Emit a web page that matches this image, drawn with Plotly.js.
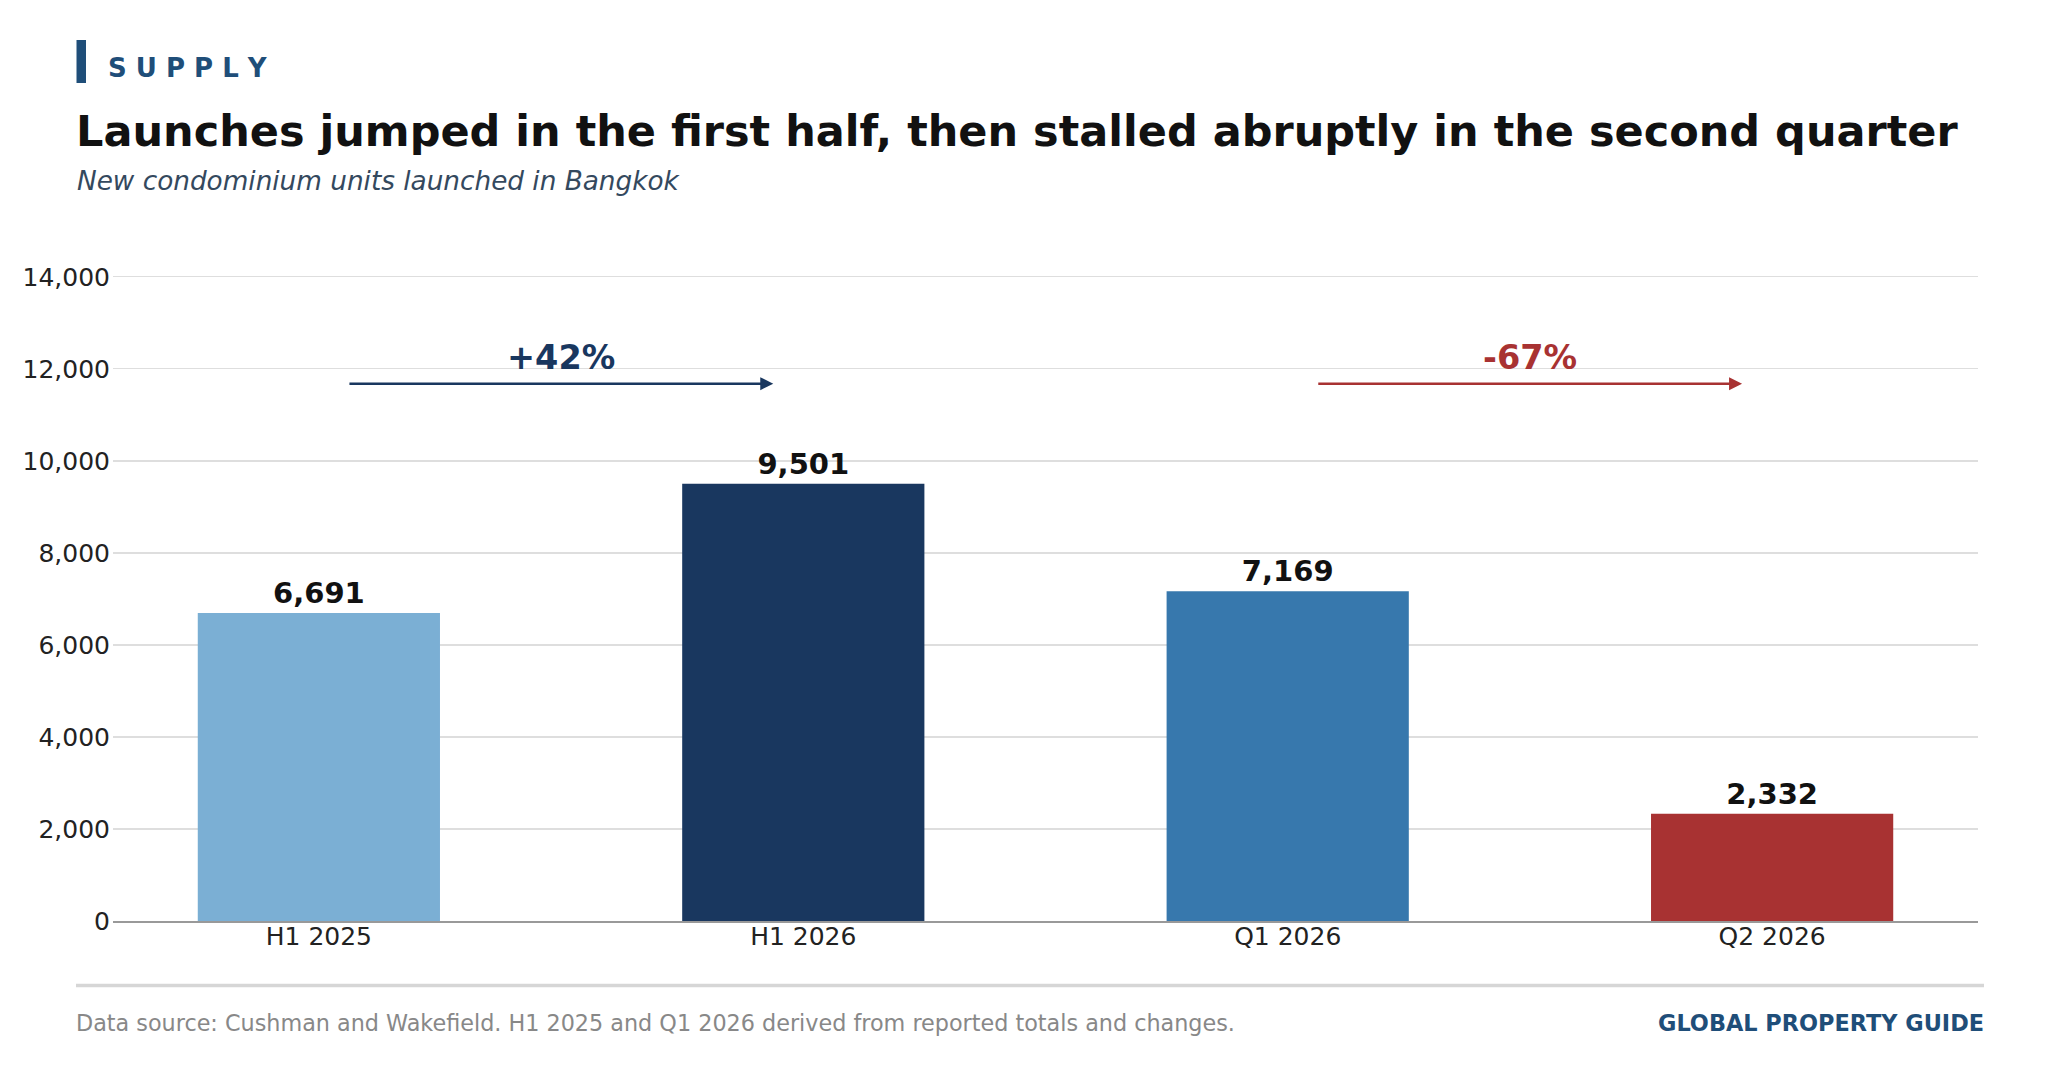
<!DOCTYPE html>
<html>
<head>
<meta charset="utf-8">
<script src="https://cdn.plot.ly/plotly-3.0.1.min.js"></script>
<style>
  html, body { margin: 0; padding: 0; background: #ffffff; }
  #chart { width: 2060px; height: 1090px; }
</style>
</head>
<body>
<div id="chart"></div>
<script>
// ---- Data ----
const categories = ['H1 2025', 'H1 2026', 'Q1 2026', 'Q2 2026'];
const units = [6691, 9501, 7169, 2332];
const barColors = ['#7bafd4', '#19375f', '#3778ad', '#a83232'];
const changeLabels = ['+42%', '-67%'];
const changeFrom = [0, 2];          // index of the starting category for each change arrow
const changeColors = ['#19375f', '#a83232'];
const yTicks = [0, 2000, 4000, 6000, 8000, 10000, 12000, 14000];

// ---- Layout geometry (pixels) ----
const W = 2060, H = 1090;
const Y_MAX = 14300;
const L = 113, R = 82, B = 169;
const T = Math.round((H - B) - (644.3 * Y_MAX / 14000));
const PW = W - L - R, PH = H - T - B;
const px = v => (v - L) / PW;          // pixel x -> paper x
const py = v => (H - B - v) / PH;      // pixel y -> paper y

const FONT = 'DejaVu Sans, Verdana, sans-serif';
const maxVal = Math.max(...units);

const annotations = [];

// Header
annotations.push({
  xref: 'paper', yref: 'paper', x: px(105.5), y: py(67.5), xanchor: 'left', yanchor: 'middle',
  text: '<b>S U P P L Y</b>', showarrow: false,
  font: { family: FONT, size: 26, color: '#1f4e79' }
});
annotations.push({
  xref: 'paper', yref: 'paper', x: px(74), y: py(130.5), xanchor: 'left', yanchor: 'middle',
  text: '<b>Launches jumped in the first half, then stalled abruptly in the second quarter</b>', showarrow: false,
  font: { family: FONT, size: 43, color: '#111111' }
});
annotations.push({
  xref: 'paper', yref: 'paper', x: px(75), y: py(181.5), xanchor: 'left', yanchor: 'middle',
  text: '<i>New condominium units launched in Bangkok</i>', showarrow: false,
  font: { family: FONT, size: 26.3, color: '#34495e' }
});

// Change arrows and labels
changeLabels.forEach((lab, k) => {
  const i = changeFrom[k];
  const yArrow = maxVal * 1.229;
  annotations.push({
    xref: 'x', yref: 'y', axref: 'x', ayref: 'y',
    x: i + 0.938, y: yArrow, ax: i + 0.06, ay: yArrow,
    text: '', showarrow: true, arrowhead: 2, arrowsize: 1, arrowwidth: 2.6,
    arrowcolor: changeColors[k], standoff: 0, startstandoff: 0
  });
  annotations.push({
    xref: 'x', yref: 'y', x: i + 0.5, y: maxVal * 1.2885,
    xanchor: 'center', yanchor: 'middle', showarrow: false,
    text: '<b>' + lab + '</b>',
    font: { family: FONT, size: 33.5, color: changeColors[k] }
  });
});

// Footer
annotations.push({
  xref: 'paper', yref: 'paper', x: px(74), y: py(1023), xanchor: 'left', yanchor: 'middle',
  text: 'Data source: Cushman and Wakefield. H1 2025 and Q1 2026 derived from reported totals and changes.',
  showarrow: false, font: { family: FONT, size: 22.3, color: '#888888' }
});
annotations.push({
  xref: 'paper', yref: 'paper', x: px(1986), y: py(1023), xanchor: 'right', yanchor: 'middle',
  text: '<b>GLOBAL PROPERTY GUIDE</b>',
  showarrow: false, font: { family: FONT, size: 22.4, color: '#1f4e79' }
});

const shapes = [
  // accent bar next to SUPPLY
  { type: 'rect', xref: 'paper', yref: 'paper', x0: px(76.5), x1: px(86), y0: py(83), y1: py(40),
    fillcolor: '#1f4e79', line: { width: 0 } },
  // footer separator
  { type: 'line', xref: 'paper', yref: 'paper', x0: px(76), x1: px(1984), y0: py(985.5), y1: py(985.5),
    line: { color: '#d6d6d6', width: 3.3 } }
];

const trace = {
  type: 'bar',
  x: categories.map((c, i) => i),
  y: units,
  width: 0.5,
  marker: { color: barColors, line: { width: 0 } },
  text: units.map(v => v.toLocaleString('en-US')),
  textposition: 'outside',
  cliponaxis: false,
  textfont: { family: FONT, size: 29, color: '#111111', weight: 'bold' },
  texttemplate: '<b>%{text}</b>',
  hoverinfo: 'skip'
};

const layout = {
  width: W, height: H,
  margin: { l: L, r: R, t: T, b: B, pad: 0 },
  paper_bgcolor: '#ffffff', plot_bgcolor: '#ffffff',
  showlegend: false,
  font: { family: FONT, color: '#222222' },
  xaxis: {
    range: [-0.425, categories.length - 1 + 0.425],
    tickmode: 'array', tickvals: categories.map((c, i) => i), ticktext: categories,
    showgrid: false, zeroline: false,
    showline: true, linecolor: '#999999', linewidth: 1.6,
    ticks: '', tickfont: { family: FONT, size: 25, color: '#222222' },
    ticklabelstandoff: -8
  },
  yaxis: {
    range: [0, Y_MAX],
    tickmode: 'array', tickvals: yTicks, ticktext: yTicks.map(v => v.toLocaleString('en-US')),
    showgrid: true, gridcolor: '#dedede', gridwidth: 1.3,
    zeroline: false, showline: false, ticks: '',
    tickfont: { family: FONT, size: 25, color: '#222222' },
    ticklabelstandoff: 2
  },
  annotations: annotations,
  shapes: shapes
};

Plotly.newPlot('chart', [trace], layout, { displayModeBar: false, staticPlot: true });
</script>
</body>
</html>
